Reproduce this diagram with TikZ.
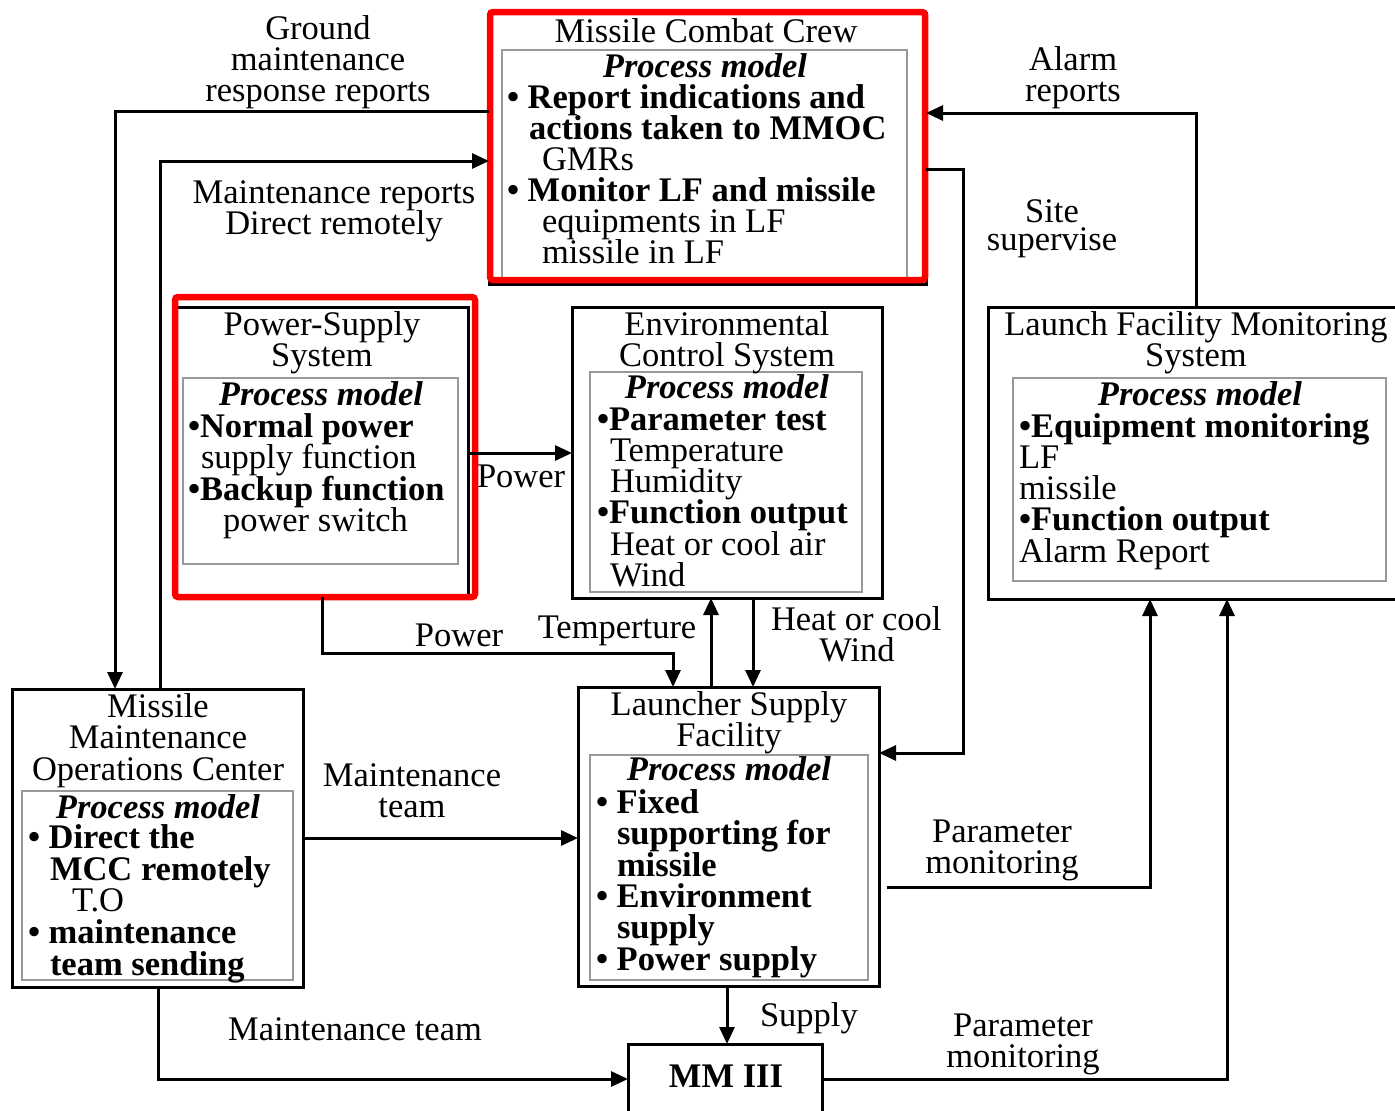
\documentclass[tikz,border=0pt]{standalone}
\usepackage{fontspec}
\setmainfont{Liberation Serif}
\usetikzlibrary{arrows.meta}
\newcommand\diagfont{\fontsize{34.5}{31.5}\selectfont}
\begin{document}
\begin{tikzpicture}[x=1pt,y=-1pt,
  box/.style={draw=black, line width=3pt, inner sep=0pt, outer sep=0pt, anchor=north west},
  inbox/.style={draw=black!40, line width=1.5pt, inner sep=0pt, outer sep=0pt, anchor=north west},
  redframe/.style={draw=red, line width=6.5pt, rounded corners=3pt, inner sep=0pt, outer sep=0pt, anchor=north west},
  conn/.style={line width=3pt, -{Triangle[length=17pt,width=15pt]}},
  t/.style={inner sep=0pt, outer sep=0pt, font=\diagfont, text height=22pt, text depth=6pt},
  c/.style={t, anchor=base},
  l/.style={t, anchor=base west},
  pm/.style={c, font=\diagfont\bfseries\itshape}]
\useasboundingbox (0,0) rectangle (1395,1111);
\clip (0,0) rectangle (1395,1111);

% inner process-model panels
\node[inbox, minimum width=405pt, minimum height=230pt] (mccin) at (502,50) {};
\node[inbox, minimum width=275pt, minimum height=186pt] (pssin) at (183,378) {};
\node[inbox, minimum width=272pt, minimum height=220pt] (ecsin) at (590,372) {};
\node[inbox, minimum width=373pt, minimum height=203pt] (lfmsin) at (1013,378) {};
\node[inbox, minimum width=271pt, minimum height=189pt] (mmocin) at (22,791) {};
\node[inbox, minimum width=278pt, minimum height=225pt] (lsfin) at (590,755) {};

% outer blocks
\node[box, minimum width=437pt, minimum height=271pt] (mcc) at (489,13) {};
\node[box, minimum width=292pt, minimum height=290pt] (pss) at (176,307) {};
\node[box, minimum width=310pt, minimum height=291pt] (ecs) at (572,307) {};
\node[box, minimum width=410pt, minimum height=292pt] (lfms) at (988,307) {};
\node[box, minimum width=291pt, minimum height=298pt] (mmoc) at (12,689) {};
\node[box, minimum width=301pt, minimum height=299pt] (lsf) at (578,687) {};
\node[box, minimum width=194pt, minimum height=81pt] (mm) at (628,1044) {};

% highlight frames
\node[redframe, minimum width=435pt, minimum height=268pt] (mccred) at (490,12) {};
\node[redframe, minimum width=300pt, minimum height=300pt] (pssred) at (175,297) {};

% bend points
\coordinate (kA) at (115,111);
\coordinate (kB) at (160,161);
\coordinate (kC) at (1196,113);
\coordinate (kD1) at (963,169);
\coordinate (kD2) at (963,753);
\coordinate (kE) at (0,453);
\coordinate (kF1) at (322,653);
\coordinate (kF2) at (673,653);
\coordinate (kG) at (711,0);
\coordinate (kH) at (753,0);
\coordinate (kI) at (0,838);
\coordinate (kJ0) at (887,887);
\coordinate (kJ) at (1150,887);
\coordinate (kK) at (158,1079);
\coordinate (kL) at (727,0);
\coordinate (kM) at (1227,1079);

% connectors
\draw[conn] (mcc.west |- kA) -- (kA) -- (mmoc.north -| kA);
\draw[conn] (mmoc.north -| kB) -- (kB) -- (mcc.west |- kB);
\draw[conn] (lfms.north -| kC) -- (kC) -- (mcc.east |- kC);
\draw[conn] (mcc.east |- kD1) -- (kD1) -- (kD2) -- (lsf.east |- kD2);
\draw[conn] (pss.east |- kE) -- (ecs.west |- kE);
\draw[conn] (pss.south -| kF1) -- (kF1) -- (kF2) -- (lsf.north -| kF2);
\draw[conn] (lsf.north -| kG) -- (ecs.south -| kG);
\draw[conn] (ecs.south -| kH) -- (lsf.north -| kH);
\draw[conn] (mmoc.east |- kI) -- (lsf.west |- kI);
\draw[conn] (kJ0) -- (kJ) -- (lfms.south -| kJ);
\draw[conn] (mmoc.south -| kK) -- (kK) -- (mm.west |- kK);
\draw[conn] (lsf.south -| kL) -- (mm.north -| kL);
\draw[conn] (mm.east |- kM) -- (kM) -- (lfms.south -| kM);

% connector labels
\node[c] (g1) at (318,39) {Ground};
\node[c] (g2) at (318,70) {maintenance};
\node[c] (g3) at (318,101) {response reports};
\node[c] (m1) at (334,203) {Maintenance reports};
\node[c] (m2) at (334,234) {Direct remotely};
\node[c] (a1) at (1073,70) {Alarm};
\node[c] (a2) at (1073,101) {reports};
\node[c] (s1) at (1052,222) {Site};
\node[c] (s2) at (1052,250) {supervise};
\node[l] (p1) at (477,487) {Power};
\node[c] (p2) at (459,646) {Power};
\node[c] (te) at (617,638) {Temperture};
\node[l] (h1) at (771,630) {Heat or cool};
\node[c] (h2) at (857,661) {Wind};
\node[c] (mt1) at (412,786) {Maintenance};
\node[c] (mt2) at (412,817) {team};
\node[c] (pm1) at (1002,842) {Parameter};
\node[c] (pm2) at (1002,873) {monitoring};
\node[c] (mt3) at (355,1040) {Maintenance team};
\node[l] (su) at (760,1026) {Supply};
\node[c] (pm3) at (1023,1036) {Parameter};
\node[c] (pm4) at (1023,1067) {monitoring};

% Missile Combat Crew
\node[c] (mccT) at (706,42) {Missile Combat Crew};
\node[pm] (mccP) at (705,77) {Process model};
\node[l, font=\diagfont\bfseries] (mcc1) at (507,108) {• Report indications and};
\node[l, font=\diagfont\bfseries] (mcc2) at (529,139) {actions taken to MMOC};
\node[l] (mcc3) at (542,170) {GMRs};
\node[l, font=\diagfont\bfseries] (mcc4) at (507,201) {• Monitor LF and missile};
\node[l] (mcc5) at (542,232) {equipments in LF};
\node[l] (mcc6) at (542,263) {missile in LF};

% Power-Supply System
\node[c] (pssT1) at (322,335) {Power-Supply};
\node[c] (pssT2) at (322,366) {System};
\node[pm] (pssP) at (321,405) {Process model};
\node[l, font=\diagfont\bfseries] (pss1) at (188,437) {•Normal power};
\node[l] (pss2) at (201,468) {supply function};
\node[l, font=\diagfont\bfseries] (pss3) at (188,500) {•Backup function};
\node[l] (pss4) at (223,531) {power switch};

% Environmental Control System
\node[c] (ecsT1) at (727,335) {Environmental};
\node[c] (ecsT2) at (727,366) {Control System};
\node[pm] (ecsP) at (727,398) {Process model};
\node[l, font=\diagfont\bfseries] (ecs1) at (597,430) {•Parameter test};
\node[l] (ecs2) at (610,461) {Temperature};
\node[l] (ecs3) at (610,492) {Humidity};
\node[l, font=\diagfont\bfseries] (ecs4) at (597,523) {•Function output};
\node[l] (ecs5) at (610,555) {Heat or cool air};
\node[l] (ecs6) at (610,586) {Wind};

% Launch Facility Monitoring System
\node[c] (lfT1) at (1196,335) {Launch Facility Monitoring};
\node[c] (lfT2) at (1196,366) {System};
\node[pm] (lfP) at (1200,405) {Process model};
\node[l, font=\diagfont\bfseries] (lf1) at (1019,437) {•Equipment monitoring};
\node[l] (lf2) at (1019,468) {LF};
\node[l] (lf3) at (1019,499) {missile};
\node[l, font=\diagfont\bfseries] (lf4) at (1019,530) {•Function output};
\node[l] (lf5) at (1019,562) {Alarm Report};

% Missile Maintenance Operations Center
\node[c] (moT1) at (158,717) {Missile};
\node[c] (moT2) at (158,748) {Maintenance};
\node[c] (moT3) at (158,780) {Operations Center};
\node[pm] (moP) at (158,818) {Process model};
\node[l, font=\diagfont\bfseries] (mo1) at (28,848) {• Direct the};
\node[l, font=\diagfont\bfseries] (mo2) at (50,880) {MCC remotely};
\node[l] (mo3) at (72,911) {T.O};
\node[l, font=\diagfont\bfseries] (mo4) at (28,943) {• maintenance};
\node[l, font=\diagfont\bfseries] (mo5) at (50,975) {team sending};

% Launcher Supply Facility
\node[c] (lsT1) at (729,715) {Launcher Supply};
\node[c] (lsT2) at (729,746) {Facility};
\node[pm] (lsP) at (729,780) {Process model};
\node[l, font=\diagfont\bfseries] (ls1) at (596,813) {• Fixed};
\node[l, font=\diagfont\bfseries] (ls2) at (617,844) {supporting for};
\node[l, font=\diagfont\bfseries] (ls3) at (617,876) {missile};
\node[l, font=\diagfont\bfseries] (ls4) at (596,907) {• Environment};
\node[l, font=\diagfont\bfseries] (ls5) at (617,938) {supply};
\node[l, font=\diagfont\bfseries] (ls6) at (596,970) {• Power supply};

% MM III
\node[c, font=\diagfont\bfseries] (mmT) at (726,1087) {MM III};
\end{tikzpicture}
\end{document}
